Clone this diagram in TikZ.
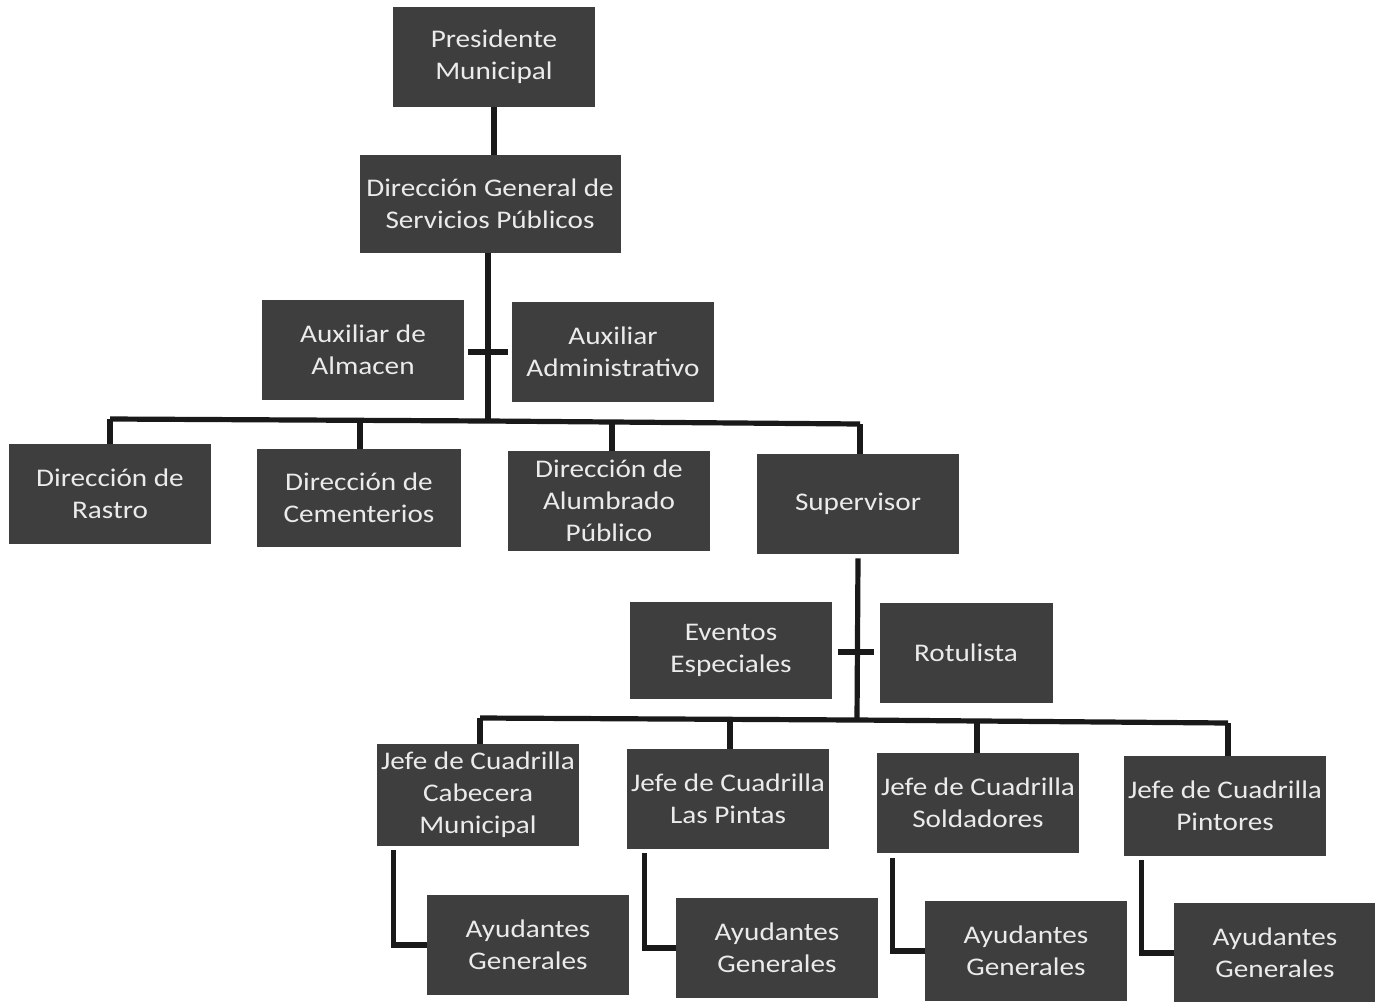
\documentclass[tikz,border=0pt]{standalone}
\usepackage{fontspec}
\setmainfont{Carlito}[FakeStretch=1.15]
\definecolor{boxfill}{RGB}{62,62,62}
\definecolor{boxtext}{RGB}{235,235,235}
\begin{document}
\begin{tikzpicture}[x=0.5pt,y=-0.5pt,
  orgbox/.style={draw=none,fill=boxfill,text=boxtext,align=center,
    inner sep=0pt,minimum width=101pt,minimum height=50pt,
    font=\fontsize{12.7}{16}\selectfont},
  conn/.style={line width=2.6pt,draw=black!90}]
\useasboundingbox (0,0) rectangle (1375,1001);
% nodes
\node[orgbox] (pres) at (494,57) {Presidente\\Municipal};
\node[orgbox,minimum width=130.5pt,minimum height=49pt] (dg) at (490,204) {Dirección General de\\Servicios Públicos};
\node[orgbox] (aalm) at (363,350) {Auxiliar de\\Almacen};
\node[orgbox] (aadm) at (613,352) {Auxiliar\\Administrativo};
\node[orgbox] (rastro) at (110,494) {Dirección de\\Rastro};
\node[orgbox,minimum width=102pt,minimum height=49pt] (cem) at (359,498) {Dirección de\\Cementerios};
\node[orgbox] (alum) at (609,501) {Dirección de\\Alumbrado\\Público};
\node[orgbox] (sup) at (858,504) {Supervisor};
\node[orgbox,minimum height=48.5pt] (evt) at (731,650) {Eventos\\Especiales};
\node[orgbox,minimum width=86.5pt] (rot) at (966,653) {Rotulista};
\node[orgbox,minimum height=51pt] (j1) at (478,795) {Jefe de Cuadrilla\\Cabecera\\Municipal};
\node[orgbox] (j2) at (728,799) {Jefe de Cuadrilla\\Las Pintas};
\node[orgbox] (j3) at (978,803) {Jefe de Cuadrilla\\Soldadores};
\node[orgbox] (j4) at (1225,806) {Jefe de Cuadrilla\\Pintores};
\node[orgbox] (a1) at (528,945) {Ayudantes\\Generales};
\node[orgbox] (a2) at (777,948) {Ayudantes\\Generales};
\node[orgbox] (a3) at (1026,951) {Ayudantes\\Generales};
\node[orgbox] (a4) at (1275,953) {Ayudantes\\Generales};
% coordinates
\coordinate (bus1) at (488,421);
\coordinate (bus1l) at (110,419);
\coordinate (bus1r) at (860,424);
\coordinate (bus2) at (857,720);
\coordinate (bus2l) at (480,718);
\coordinate (bus2r) at (1228,723);
% top connectors
\draw[conn] (pres.south) -- (dg.north -| pres.south);
\draw[conn] ([xshift=-1pt]dg.south) -- (bus1);
\draw[conn] (aalm.east |- 0,352) ++(4,0) -- ([xshift=-2pt]aadm.west);
\draw[conn] (bus1l) -- (bus1) -- (bus1r);
\draw[conn] (bus1l) -- (rastro.north);
\draw[conn] (360,420) -- (360,449);
\draw[conn] (612,422) -- (612,451);
\draw[conn] (bus1r) -- (sup.north -| bus1r);
% supervisor
\draw[conn] ([yshift=-2pt]sup.south) -- (bus2);
\draw[conn] ([xshift=3pt]evt.east |- 0,652) -- ([xshift=-2.5pt]rot.west |- 0,652);
\draw[conn] (bus2l) -- (bus2) -- (bus2r);
\draw[conn] (bus2l) -- (j1.north -| bus2l);
\draw[conn] (730,719) -- (730,749);
\draw[conn] (977,721) -- (977,753);
\draw[conn] (bus2r) -- (j4.north -| bus2r);
% elbows
\draw[conn] ([xshift=8.5pt,yshift=-2pt]j1.south west) |- (a1.west);
\draw[conn] ([xshift=9pt,yshift=-2pt]j2.south west) |- (a2.west);
\draw[conn] ([xshift=8pt,yshift=-2.5pt]j3.south west) |- (a3.west);
\draw[conn] ([xshift=9pt,yshift=-2pt]j4.south west) |- (a4.west);
\end{tikzpicture}
\end{document}
